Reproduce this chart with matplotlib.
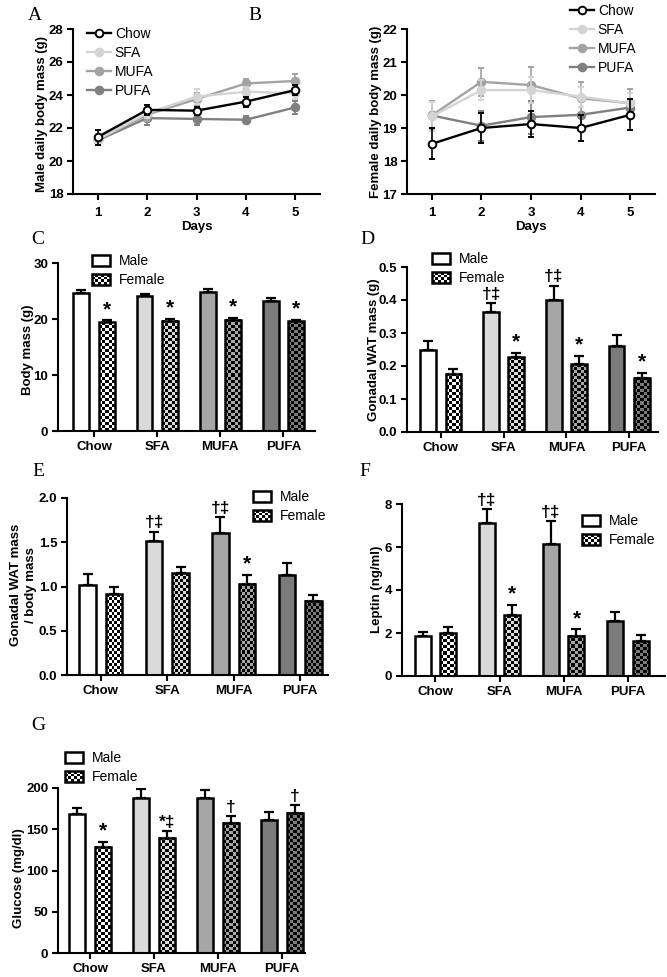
import numpy as np
import matplotlib
matplotlib.use('Agg')
import matplotlib.pyplot as plt
from matplotlib.patches import Rectangle
from matplotlib.lines import Line2D
from matplotlib.legend_handler import HandlerBase
from matplotlib.colors import ListedColormap

plt.rcParams['font.family'] = ['Liberation Sans', 'DejaVu Sans']
plt.rcParams['font.weight'] = 'bold'

# ---------------- data ----------------
days = [1, 2, 3, 4, 5]
diets = ['Chow', 'SFA', 'MUFA', 'PUFA']

male_daily_chow = [21.45, 23.1, 23.05, 23.6, 24.3]
male_daily_sfa = [21.3, 22.9, 23.9, 24.2, 24.1]
male_daily_mufa = [21.3, 22.8, 23.75, 24.7, 24.85]
male_daily_pufa = [21.25, 22.6, 22.55, 22.5, 23.25]
male_daily_chow_err = [0.45, 0.3, 0.25, 0.3, 0.3]
male_daily_sfa_err = [0.3, 0.3, 0.45, 0.3, 0.35]
male_daily_mufa_err = [0.3, 0.35, 0.35, 0.25, 0.45]
male_daily_pufa_err = [0.25, 0.4, 0.35, 0.2, 0.4]

female_daily_chow = [18.52, 19.0, 19.12, 19.0, 19.4]
female_daily_sfa = [19.35, 20.15, 20.15, 19.95, 19.75]
female_daily_mufa = [19.38, 20.4, 20.3, 19.9, 19.75]
female_daily_pufa = [19.38, 19.07, 19.33, 19.4, 19.62]
female_daily_chow_err = [0.47, 0.45, 0.4, 0.4, 0.47]
female_daily_sfa_err = [0.45, 0.3, 0.4, 0.3, 0.3]
female_daily_mufa_err = [0.45, 0.42, 0.55, 0.5, 0.42]
female_daily_pufa_err = [0.45, 0.45, 0.5, 0.45, 0.25]

body_male = [24.6, 24.1, 24.9, 23.3]
body_male_err = [0.5, 0.3, 0.4, 0.4]
body_female = [19.4, 19.7, 19.9, 19.6]
body_female_err = [0.35, 0.3, 0.3, 0.3]
body_marks_male = ['', '', '', '']
body_marks_female = ['*', '*', '*', '*']

wat_male = [0.247, 0.365, 0.40, 0.26]
wat_male_err = [0.028, 0.025, 0.043, 0.033]
wat_female = [0.177, 0.227, 0.206, 0.165]
wat_female_err = [0.015, 0.013, 0.024, 0.013]
wat_marks_male = ['', '†‡', '†‡', '']
wat_marks_female = ['', '*', '*', '*']

ratio_male = [1.02, 1.51, 1.61, 1.13]
ratio_male_err = [0.12, 0.11, 0.17, 0.14]
ratio_female = [0.91, 1.15, 1.03, 0.84]
ratio_female_err = [0.08, 0.07, 0.10, 0.06]
ratio_marks_male = ['', '†‡', '†‡', '']
ratio_marks_female = ['', '', '*', '']

leptin_male = [1.85, 7.1, 6.15, 2.55]
leptin_male_err = [0.18, 0.65, 1.05, 0.43]
leptin_female = [1.98, 2.82, 1.87, 1.62]
leptin_female_err = [0.29, 0.48, 0.30, 0.30]
leptin_marks_male = ['', '†‡', '†‡', '']
leptin_marks_female = ['', '*', '*', '']

glucose_male = [169, 188, 188, 161]
glucose_male_err = [7, 11, 9, 10]
glucose_female = [129, 140, 158, 170]
glucose_female_err = [6, 8, 8, 9]
glucose_marks_male = ['', '', '', '']
glucose_marks_female = ['*', '*‡', '†', '†']

diet_colors = ['#ffffff', '#dadada', '#a6a6a6', '#7b7b7b']
line_colors = ['#000000', '#d4d4d4', '#a3a3a3', '#808080']

# ---------------- layout helpers ----------------
W, H = 667, 977
fig = plt.figure(figsize=(W / 100, H / 100), dpi=100)


def add_ax(l, t, r, b):
    return fig.add_axes([l / W, 1 - b / H, (r - l) / W, (b - t) / H])


def fpt(x, y):
    return (x / W, 1 - y / H)


def style(ax):
    for s in ['top', 'right']:
        ax.spines[s].set_visible(False)
    for s in ['left', 'bottom']:
        ax.spines[s].set_linewidth(1.5)
    ax.tick_params(direction='out', length=4, width=1.5, labelsize=9.5, pad=3)


def set_ylabel_px(ax, box, text, right_px, center_py):
    l, t, r, b = box
    ax.set_ylabel(text, fontsize=9.5, fontweight='bold', multialignment='center', linespacing=1.3)
    ax.yaxis.set_label_coords((right_px - l) / (r - l), 1 - (center_py - t) / (b - t))


class Checker(Rectangle):
    pass


class CheckerHandler(HandlerBase):
    def create_artists(self, legend, orig_handle, xdescent, ydescent, width, height, fontsize, trans):
        x0, y0 = -xdescent, -ydescent
        arts = [Rectangle((x0, y0), width, height, facecolor='white', edgecolor='none', transform=trans)]
        ncol, nrow = 6, 4
        cw, ch = width / ncol, height / nrow
        for i in range(nrow):
            for j in range(ncol):
                if (i + j) % 2 == 0:
                    arts.append(Rectangle((x0 + j * cw, y0 + i * ch), cw, ch, facecolor='black',
                                          edgecolor='none', transform=trans))
        arts.append(Rectangle((x0, y0), width, height, facecolor='none', edgecolor='black',
                              lw=1.8, transform=trans))
        return arts


legend_font = {'family': 'Liberation Sans', 'weight': 'normal', 'size': 10}


def bar_legend(ax, px, py):
    hm = Rectangle((0, 0), 1, 1, facecolor='white', edgecolor='black', lw=1.8)
    hf = Checker((0, 0), 1, 1)
    ax.legend([hm, hf], ['Male', 'Female'], handler_map={Checker: CheckerHandler()},
              loc='upper left', bbox_to_anchor=fpt(px, py), bbox_transform=fig.transFigure,
              frameon=False, borderpad=0, borderaxespad=0, handlelength=1.3, handleheight=0.85,
              handletextpad=0.6, labelspacing=0.38, prop=legend_font)


def line_panel(box, xlimv, ylimv, yticks, series, errs, ylabel, lab_px, leg_px):
    ax = add_ax(*box)
    style(ax)
    names = ['Chow', 'SFA', 'MUFA', 'PUFA']
    for k in [3, 2, 1, 0]:
        c = line_colors[k]
        ax.errorbar(days, series[k], yerr=errs[k], color=c, lw=1.7, marker='o', ms=5.5,
                    mfc='white' if k == 0 else c, mec=c, mew=1.4, capsize=2.5, elinewidth=1.2,
                    capthick=1.2, zorder=3 + (3 - k), clip_on=False)
    handles = [Line2D([], [], color=line_colors[k], lw=1.7, marker='o', ms=5.5,
                      mfc='white' if k == 0 else line_colors[k], mec=line_colors[k], mew=1.4)
               for k in range(4)]
    ax.legend(handles, names, loc='upper left', bbox_to_anchor=fpt(*leg_px), bbox_transform=fig.transFigure,
              frameon=False, borderpad=0, borderaxespad=0, handlelength=1.7, handletextpad=0.3,
              labelspacing=0.36, prop=legend_font)
    ax.set_xlim(*xlimv)
    ax.set_ylim(*ylimv)
    ax.set_xticks(days)
    ax.set_yticks(yticks)
    ax.tick_params(axis='x', pad=5)
    l, t, r, b = box
    set_ylabel_px(ax, box, ylabel, lab_px[0], lab_px[1])
    ax.set_xlabel('Days', fontsize=9.5, fontweight='bold')
    ax.xaxis.set_label_coords(0.5, (b - 221) / (b - t))
    return ax


OFF, BW = 0.2, 0.25


def mark_size(s):
    return 15 if s == '*' else 12.5


def bar_panel(box, xlimv, ylimv, yticks, male, male_err, female, female_err, mm, mf, ylabel, lab_px, leg_px):
    ax = add_ax(*box)
    style(ax)
    x = np.arange(len(diets))
    z = np.zeros(len(diets))
    ax.errorbar(x - OFF, male, yerr=[z, male_err], fmt='none', ecolor='black', elinewidth=1.6,
                capsize=3.5, capthick=1.6, zorder=1)
    ax.errorbar(x + OFF, female, yerr=[z, female_err], fmt='none', ecolor='black', elinewidth=1.6,
                capsize=3.5, capthick=1.6, zorder=1)
    ax.bar(x - OFF, male, width=BW, color=diet_colors, edgecolor='black', linewidth=1.8, zorder=2)
    fb = ax.bar(x + OFF, female, width=BW, facecolor='none', edgecolor='black', linewidth=1.8, zorder=3)
    ax.set_xlim(*xlimv)
    ax.set_ylim(*ylimv)
    cell = 3.0
    for i, p in enumerate(fb.patches):
        x0, y0, w, h = p.get_x(), p.get_y(), p.get_width(), p.get_height()
        p0 = ax.transData.transform((x0, y0))
        p1 = ax.transData.transform((x0 + w, y0 + h))
        nc = max(1, int(round((p1[0] - p0[0]) / cell)))
        nr = max(1, int(round((p1[1] - p0[1]) / cell)))
        arr = np.add.outer(np.arange(nr), np.arange(nc)) % 2
        cmap = ListedColormap(['#000000', diet_colors[i]])
        ax.imshow(arr, extent=(x0, x0 + w, y0, y0 + h), cmap=cmap, vmin=0, vmax=1,
                  interpolation='nearest', aspect='auto', origin='lower', zorder=2.5)
    ax.set_xlim(*xlimv)
    ax.set_ylim(*ylimv)
    ax.set_aspect('auto')
    ax.set_xticks(x, diets)
    ax.set_yticks(yticks)
    for xs, vals, errs, marks in [(x - OFF, male, male_err, mm), (x + OFF, female, female_err, mf)]:
        for xi, v, e, s in zip(xs, vals, errs, marks):
            if s:
                ax.annotate(s, (xi, v + e), xytext=(0, 1.0), textcoords='offset points', ha='center',
                            va='bottom', fontsize=mark_size(s), fontweight='bold')
    set_ylabel_px(ax, box, ylabel, lab_px[0], lab_px[1])
    bar_legend(ax, *leg_px)
    return ax


# ---------------- panels ----------------
line_panel((73, 29, 320, 194), (0.5, 5.5), (18, 28), [18, 20, 22, 24, 26, 28],
           [male_daily_chow, male_daily_sfa, male_daily_mufa, male_daily_pufa],
           [male_daily_chow_err, male_daily_sfa_err, male_daily_mufa_err, male_daily_pufa_err],
           'Male daily body mass (g)', (48, 114), (87, 27))

line_panel((407, 29, 655, 194), (0.5, 5.5), (17, 22), [17, 18, 19, 20, 21, 22],
           [female_daily_chow, female_daily_sfa, female_daily_mufa, female_daily_pufa],
           [female_daily_chow_err, female_daily_sfa_err, female_daily_mufa_err, female_daily_pufa_err],
           'Female daily body mass (g)', (382, 112), (570, 4))

bar_panel((58, 263, 315, 431), (-0.57, 3.5), (0, 30), [0, 10, 20, 30],
          body_male, body_male_err, body_female, body_female_err, body_marks_male, body_marks_female,
          'Body mass (g)', (34, 350), (92, 254))

bar_panel((407, 267, 658, 432), (-0.54, 3.46), (0, 0.5), [0.0, 0.1, 0.2, 0.3, 0.4, 0.5],
          wat_male, wat_male_err, wat_female, wat_female_err, wat_marks_male, wat_marks_female,
          'Gonadal WAT mass (g)', (380, 350), (432, 252))

bar_panel((67, 498, 328, 675), (-0.51, 3.42), (0, 2.0), [0.0, 0.5, 1.0, 1.5, 2.0],
          ratio_male, ratio_male_err, ratio_female, ratio_female_err, ratio_marks_male, ratio_marks_female,
          'Gonadal WAT mass\n/ body mass', (37, 585), (253, 490))

bar_panel((402, 504, 665, 676), (-0.52, 3.58), (0, 8), [0, 2, 4, 6, 8],
          leptin_male, leptin_male_err, leptin_female, leptin_female_err, leptin_marks_male, leptin_marks_female,
          'Leptin (ng/ml)', (383, 589), (582, 514))

bar_panel((58, 788, 305, 953), (-0.5, 3.36), (0, 200), [0, 50, 100, 150, 200],
          glucose_male, glucose_male_err, glucose_female, glucose_female_err, glucose_marks_male, glucose_marks_female,
          'Glucose (mg/dl)', (25, 878), (65, 751))

for txt, (px, py) in zip('ABCDEFG', [(35, 15), (255, 15), (38, 240), (367, 240), (38, 472), (365, 472), (38, 725)]):
    fig.text(*fpt(px, py), txt, ha='center', va='center', fontsize=14, fontweight='normal',
             family=['Liberation Serif', 'DejaVu Serif'])

fig.savefig('out.png', dpi=100)
